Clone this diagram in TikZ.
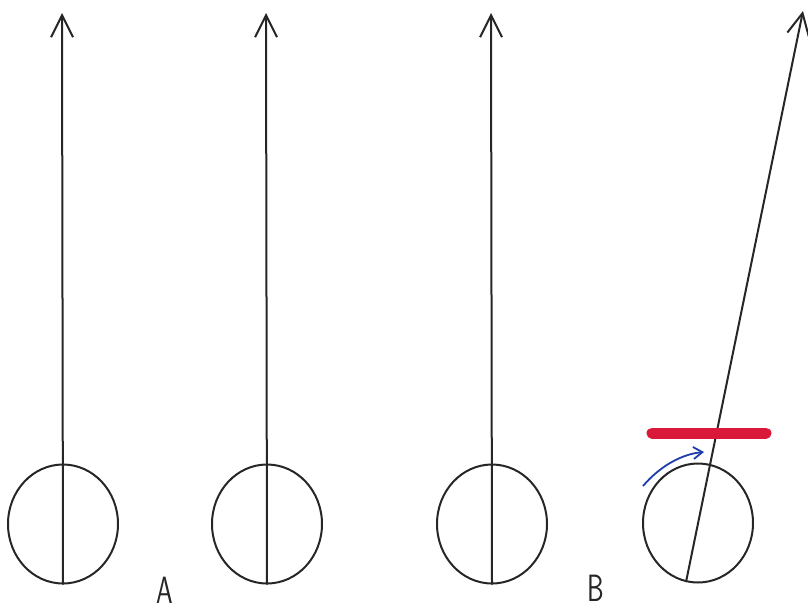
\documentclass[tikz,border=0pt]{standalone}
\usetikzlibrary{arrows.meta,shapes.geometric}
\begin{document}
\begin{tikzpicture}[x=1pt,y=-1pt,
  head/.style={ellipse,draw=black!85,line width=2pt,minimum width=110pt,minimum height=119pt,inner sep=0pt},
  sight/.style={draw=black!85,line width=2pt,-{Straight Barb[length=22pt,width=22pt,line width=2pt]}},
  lbl/.style={font=\sffamily\fontsize{38}{38}\selectfont,text=black!85,xscale=0.7,inner sep=0pt}]
\useasboundingbox (0,0) rectangle (808,611);
% figure 1
\node[head] (h1) at (63,524) {};
\coordinate (t1) at (62,13);
\draw[sight] (h1.south) -- (t1);
% figure 2
\node[head] (h2) at (267,524) {};
\coordinate (t2) at (266,13);
\draw[sight] (h2.south) -- (t2);
% figure 3
\node[head] (h3) at (492,524) {};
\coordinate (t3) at (491,13);
\draw[sight] (h3.south) -- (t3);
% figure 4
\node[head] (h4) at (698,523) {};
\coordinate (b4) at (686,582);
\coordinate (t4) at (803,11);
\draw[sight] (b4) -- (t4);
\coordinate (r1) at (652,433);
\coordinate (r2) at (766,433);
\draw[line width=11pt,line cap=round,color={rgb,255:red,218;green,24;blue,58}] (r1) -- (r2);
\coordinate (a1) at (643,486);
\coordinate (a2) at (704,452);
\draw[line width=1.8pt,color={rgb,255:red,30;green,60;blue,170},-{Straight Barb[length=9pt,width=12pt]}] (a1) .. controls (660,466) and (682,454) .. (a2);
% labels
\node[lbl] (la) at (165,590) {A};
\node[lbl] (lb) at (596,588) {B};
\end{tikzpicture}
\end{document}
